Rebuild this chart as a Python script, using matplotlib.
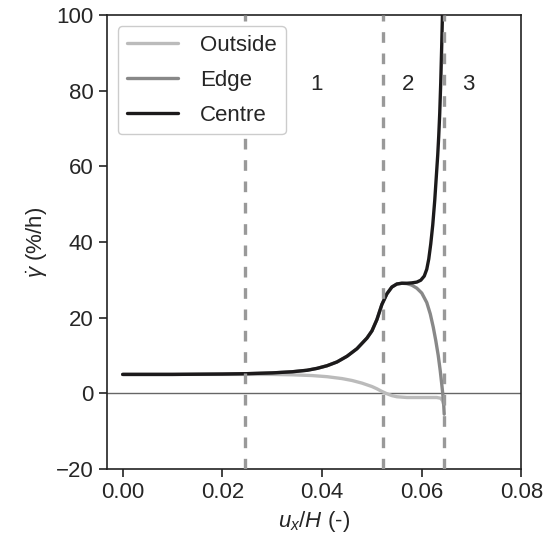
import matplotlib
matplotlib.use("Agg")
import matplotlib.pyplot as plt
import seaborn as sns

# curves (x = u_x/H, y = strain rate in %/h)
centre_x = [0, 0.01, 0.02, 0.025, 0.03, 0.034, 0.037, 0.039, 0.041, 0.043, 0.045,
            0.047, 0.049, 0.050, 0.051, 0.052, 0.053, 0.054, 0.055, 0.056, 0.057,
            0.058, 0.059, 0.0598, 0.0605, 0.061, 0.0614, 0.0618, 0.0622, 0.0626,
            0.0629, 0.0632, 0.0634, 0.0636, 0.0638, 0.064, 0.0642]
centre_y = [5.0, 5.0, 5.1, 5.2, 5.4, 5.7, 6.1, 6.6, 7.3, 8.3, 9.8,
            11.8, 14.6, 16.5, 19.5, 23.5, 26.3, 28.1, 28.9, 29.1, 29.1,
            29.2, 29.4, 29.9, 31.0, 32.8, 35.5, 39.5, 44.5, 51.0,
            57.0, 63.0, 68.0, 74.0, 82.0, 92.0, 103.0]

edge_x = [0, 0.01, 0.02, 0.025, 0.03, 0.034, 0.037, 0.039, 0.041, 0.043, 0.045,
          0.047, 0.049, 0.050, 0.051, 0.052, 0.053, 0.054, 0.055, 0.056, 0.057,
          0.058, 0.059, 0.060, 0.061, 0.0617, 0.0623, 0.0628, 0.0633, 0.0637,
          0.064, 0.0642, 0.0644, 0.0645]
edge_y = [5.0, 5.0, 5.1, 5.2, 5.4, 5.7, 6.1, 6.6, 7.3, 8.3, 9.8,
          11.8, 14.6, 16.5, 19.5, 23.5, 26.3, 28.1, 28.9, 29.1, 29.0,
          28.6, 27.8, 26.5, 24.0, 21.0, 17.5, 14.0, 10.0, 6.0,
          2.5, 0.0, -3.0, -5.5]

outside_x = [0, 0.01, 0.02, 0.03, 0.034, 0.038, 0.041, 0.044, 0.046, 0.048,
             0.050, 0.051, 0.052, 0.053, 0.054, 0.055, 0.057, 0.060, 0.063,
             0.0638, 0.0642, 0.0644]
outside_y = [5.0, 5.0, 5.0, 5.0, 4.9, 4.7, 4.4, 3.9, 3.4, 2.7,
             1.8, 1.2, 0.5, -0.1, -0.6, -0.9, -1.1, -1.1, -1.1,
             -1.3, -2.0, -3.0]

stage_bounds = [0.0245, 0.0523, 0.0644]
stage_labels = ["1", "2", "3"]
stage_label_x = [0.0389, 0.0573, 0.0693]

sns.set_style("ticks")
plt.rcParams['font.family'] = ['Liberation Sans', 'DejaVu Sans']
plt.rcParams['mathtext.fontset'] = 'custom'
plt.rcParams['mathtext.rm'] = 'Liberation Sans'
plt.rcParams['mathtext.it'] = 'Liberation Sans:italic'
plt.rcParams['font.size'] = 16

fig = plt.figure(figsize=(5.53, 5.36), dpi=100)
ax = fig.add_axes([0.193, 0.125, 0.75, 0.847])

ax.axhline(0, color='#666666', lw=1.0, zorder=1)
ax.plot(outside_x, outside_y, color='#bbbbbb', lw=2.4, label='Outside', zorder=2)
ax.plot(edge_x, edge_y, color='#888888', lw=2.4, label='Edge', zorder=3)
ax.plot(centre_x, centre_y, color='#1c1a1b', lw=2.4, label='Centre', zorder=4)

# dashed stage boundaries sit over the curves but under the legend
for xb in stage_bounds:
    ax.axvline(xb, color='#999999', lw=2.4, ls=(0, (3.2, 3.2)), zorder=4.5)
for xl, lab in zip(stage_label_x, stage_labels):
    ax.text(xl, 81.5, lab, ha='center', va='center', fontsize=16)

ax.set_xlim(-0.0032, 0.08)
ax.set_ylim(-20, 100)
ax.set_xticks([0, 0.02, 0.04, 0.06, 0.08])
ax.set_yticks([-20, 0, 20, 40, 60, 80, 100])
ax.set_xticklabels(['0.00', '0.02', '0.04', '0.06', '0.08'])
ax.set_yticklabels(['\u221220', '0', '20', '40', '60', '80', '100'])
ax.tick_params(labelsize=16, length=6, width=1.2, color='#222222')
for s in ax.spines.values():
    s.set_color('#222222')
    s.set_linewidth(1.2)

ax.set_xlabel(r'$u_x/H$ (-)', fontsize=16)
ax.set_ylabel(r'$\dot{\gamma}$ (%/h)', fontsize=16)
leg = ax.legend(loc='upper left', fontsize=16, handlelength=2.3, handletextpad=1.0,
                labelspacing=0.62, frameon=True, framealpha=1.0)
leg.set_zorder(6)

fig.savefig('out.png', dpi=100)
